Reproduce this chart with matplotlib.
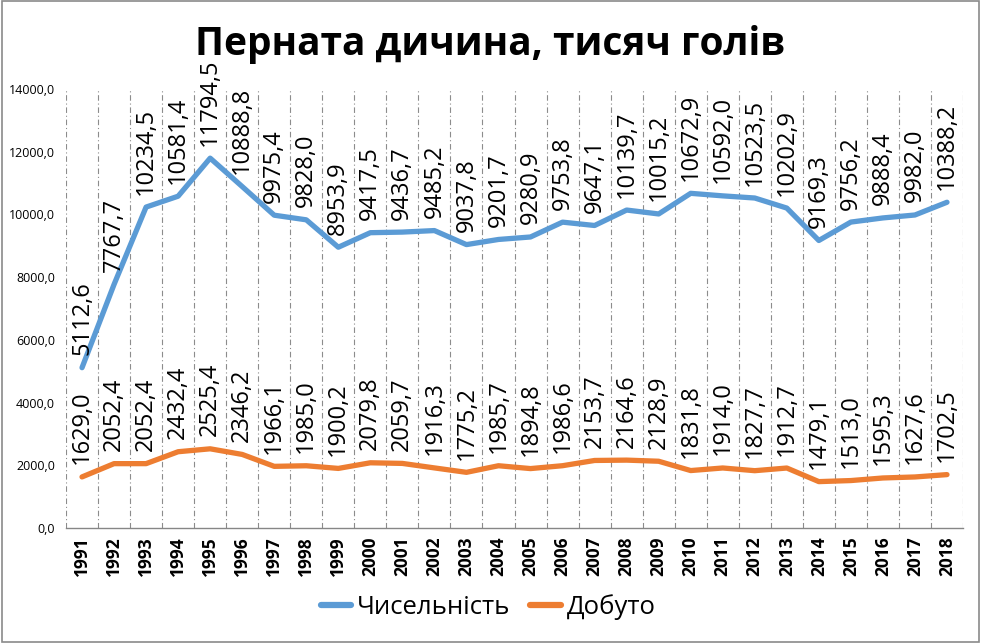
import matplotlib
matplotlib.use("Agg")
import matplotlib.pyplot as plt
from matplotlib.patches import Rectangle
from matplotlib.lines import Line2D

years = list(range(1991, 2019))
chyselnist = [5112.6, 7767.7, 10234.5, 10581.4, 11794.5, 10888.8, 9975.4, 9828.0,
              8953.9, 9417.5, 9436.7, 9485.2, 9037.8, 9201.7, 9280.9, 9753.8,
              9647.1, 10139.7, 10015.2, 10672.9, 10592.0, 10523.5, 10202.9,
              9169.3, 9756.2, 9888.4, 9982.0, 10388.2]
dobuto = [1629.0, 2052.4, 2052.4, 2432.4, 2525.4, 2346.2, 1966.1, 1985.0,
          1900.2, 2079.8, 2059.7, 1916.3, 1775.2, 1985.7, 1894.8, 1986.6,
          2153.7, 2164.6, 2128.9, 1831.8, 1914.0, 1827.7, 1912.7, 1479.1,
          1513.0, 1595.3, 1627.6, 1702.5]
series_names = ["Чисельність", "Добуто"]
colors = ["#5B9BD5", "#ED7D31"]
title = "Перната дичина, тисяч голів"
yticks = [0, 2000, 4000, 6000, 8000, 10000, 12000, 14000]

FONT = "Open Sans"

def fmt(v):
    return f"{v:.1f}".replace(".", ",")

fig = plt.figure(figsize=(9.81, 6.43), dpi=100)
ax = fig.add_axes([66/981, 1 - 528/643, (963-66)/981, (528-89)/643])

x = list(range(len(years)))
for vals, c, name in zip([chyselnist, dobuto], colors, series_names):
    ax.plot(x, vals, color=c, lw=3.8, solid_capstyle="round", solid_joinstyle="round",
            label=name, zorder=3)
    for xi, v in zip(x, vals):
        ax.annotate(fmt(v), (xi, v), xytext=(0, 9), textcoords="offset points",
                    rotation=90, ha="center", va="bottom", fontsize=17,
                    family=FONT, color="black", zorder=4, annotation_clip=False)

ax.set_xlim(-0.5, len(years) - 0.5)
ax.set_ylim(0, 14000)
ax.set_yticks(yticks)
ax.set_yticklabels([fmt(v) for v in yticks], family=FONT, fontsize=9)
ax.set_xticks(x)
ax.set_xticklabels([str(y) for y in years], rotation=90, family=FONT,
                   fontsize=12.5, fontweight="bold")
ax.tick_params(axis="both", length=0, pad=6)
ax.tick_params(axis="y", pad=8)

for k in range(len(years) + 1):
    ax.axvline(k - 0.5, color="#8c8c8c", lw=0.8, dashes=(5, 2.5, 1, 2.5), zorder=1)

for s in ["top", "right", "left"]:
    ax.spines[s].set_visible(False)
ax.spines["bottom"].set_color("#868686")
ax.spines["bottom"].set_linewidth(1.0)

fig.text(490/981, 1 - 45/643, title, ha="center", va="center", fontsize=28,
         fontweight="bold", family=FONT)

handles = [Line2D([0], [0], color=c, lw=4.5, solid_capstyle="round") for c in colors]
fig.legend(handles, series_names, loc="center", bbox_to_anchor=(488/981, 1 - 607/643),
           ncol=2, frameon=False, prop={"family": FONT, "size": 18.5},
           handlelength=1.2, handletextpad=0.2, columnspacing=0.8)

fig.patches.append(Rectangle((0.002, 0.002), 0.996, 0.996, transform=fig.transFigure,
                             fill=False, edgecolor="#8a8a8a", lw=1.2))

fig.savefig("out.png", dpi=100)
